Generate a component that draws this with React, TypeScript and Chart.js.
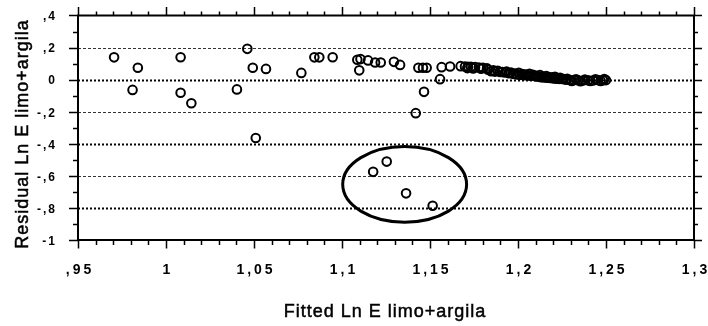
import { useEffect, useRef } from "react";
import { Chart, registerables } from "chart.js";

Chart.register(...registerables);

// Fitted values (x) and residuals (y) of the Ln E limo+argila model
const fitted = [
  0.9705, 0.981, 0.984, 1.0083, 1.0083, 1.0144, 1.0403, 1.0462, 1.0493, 1.051,
  1.0568, 1.0769, 1.0843, 1.0871, 1.0947, 1.1087, 1.1105, 1.1098, 1.1148, 1.1188,
  1.122, 1.1295, 1.133, 1.1419, 1.1434, 1.146, 1.1466, 1.1481, 1.1557, 1.1566,
  1.1614, 1.1674, 1.1699, 1.1716, 1.1733, 1.1756, 1.1778, 1.1801, 1.1824, 1.1847,
  1.1869, 1.1898, 1.1926, 1.1949, 1.1972, 1.1994, 1.2011, 1.2034, 1.2057, 1.2074,
  1.2097, 1.2114, 1.2131, 1.2148, 1.2165, 1.2182, 1.2199, 1.2216, 1.2233, 1.225,
  1.2273, 1.2295, 1.2318, 1.2341, 1.2369, 1.2398, 1.2426, 1.2455, 1.2483, 1.25,
  1.1712, 1.1745, 1.179, 1.183, 1.186, 1.1885, 1.191, 1.1935, 1.196, 1.1985,
  1.2005, 1.2025, 1.2045, 1.2065, 1.2085, 1.2105, 1.2125, 1.214, 1.216, 1.2175,
  1.2195, 1.221, 1.2225, 1.224, 1.226, 1.228, 1.2305, 1.233, 1.2355, 1.238,
  1.241, 1.244, 1.247, 1.249,
  1.1177, 1.1254, 1.1364, 1.1515,
];
const residual = [
  0.139, -0.064, 0.074, 0.14, -0.082, -0.147, -0.061, 0.192, 0.074, -0.364,
  0.067, 0.042, 0.139, 0.139, 0.14, 0.124, 0.128, 0.058, 0.12, 0.107,
  0.107, 0.111, 0.092, -0.209, 0.074, 0.074, -0.076, 0.074, 0.003, 0.078,
  0.082, 0.084, 0.082, 0.08, 0.08, 0.078, 0.076, 0.074, 0.07, 0.052,
  0.05, 0.048, 0.045, 0.04, 0.036, 0.032, 0.03, 0.028, 0.026, 0.025,
  0.022, 0.018, 0.015, 0.013, 0.012, 0.01, 0.008, 0.006, 0.005, 0.004,
  0.0, -0.002, -0.003, -0.004, -0.005, -0.004, -0.005, -0.003, -0.004, -0.003,
  0.072, 0.07, 0.068, 0.062, 0.058, 0.055, 0.048, 0.05, 0.044, 0.038,
  0.042, 0.035, 0.032, 0.036, 0.03, 0.024, 0.028, 0.02, 0.022, 0.016,
  0.014, 0.018, 0.01, 0.012, 0.004, 0.006, -0.008, 0.002, -0.01, 0.0,
  -0.008, 0.002, -0.008, 0.004,
  -0.575, -0.511, -0.709, -0.786,
];

const xTicks = [0.95, 1, 1.05, 1.1, 1.15, 1.2, 1.25, 1.3];
const xTickLabels = [",95", "1", "1,05", "1,1", "1,15", "1,2", "1,25", "1,3"];
const yTicks = [0.4, 0.2, 0, -0.2, -0.4, -0.6, -0.8, -1];
const yTickLabels = [",4", ",2", "0", "-,2", "-,4", "-,6", "-,8", "-1"];
const heavyGrid = [0, -0.4, -0.8];
const lightGrid = [0.2, -0.2, -0.6];

// Group of large negative residuals, ringed on the plot (data units)
const outlierCentre = { x: 1.1356, y: -0.653 };
const outlierHalfWidth = 0.0352;
const outlierHalfHeight = 0.236;

const xTitle = "Fitted Ln E limo+argila";
const yTitle = "Residual Ln E limo+argila";

const framePlugin = {
  id: "residualFrame",
  beforeDatasetsDraw(chart: any) {
    const { ctx, chartArea: a, scales } = chart;
    const y = scales.y;
    ctx.save();
    for (const v of lightGrid) {
      const py = Math.round(y.getPixelForValue(v)) + 0.5;
      ctx.strokeStyle = "#333";
      ctx.lineWidth = 1;
      ctx.setLineDash([3, 2]);
      ctx.beginPath();
      ctx.moveTo(a.left, py);
      ctx.lineTo(a.right, py);
      ctx.stroke();
    }
    for (const v of heavyGrid) {
      const py = Math.round(y.getPixelForValue(v)) + 0.5;
      ctx.strokeStyle = "#000";
      ctx.lineWidth = 2;
      ctx.setLineDash([2, 2]);
      ctx.beginPath();
      ctx.moveTo(a.left, py);
      ctx.lineTo(a.right, py);
      ctx.stroke();
    }
    ctx.restore();
  },
  afterDraw(chart: any) {
    const { ctx, chartArea: a, scales } = chart;
    const x = scales.x;
    const y = scales.y;
    ctx.save();
    ctx.setLineDash([]);
    ctx.strokeStyle = "#000";

    // ring round the outlying residuals
    const cx = x.getPixelForValue(outlierCentre.x);
    const cy = y.getPixelForValue(outlierCentre.y);
    const rx = x.getPixelForValue(outlierCentre.x + outlierHalfWidth) - cx;
    const ry = y.getPixelForValue(outlierCentre.y - outlierHalfHeight) - cy;
    ctx.lineWidth = 3;
    ctx.beginPath();
    ctx.ellipse(cx, cy, rx, ry, 0, 0, Math.PI * 2);
    ctx.stroke();

    // frame
    ctx.lineWidth = 2;
    ctx.strokeRect(a.left, a.top, a.right - a.left, a.bottom - a.top);

    // x ticks, every 0.01, major every 0.05 (top and bottom, pointing out)
    ctx.lineWidth = 1.5;
    const xMin = xTicks[0];
    const xMax = xTicks[xTicks.length - 1];
    const nx = Math.round((xMax - xMin) / 0.01);
    for (let i = 0; i <= nx; i++) {
      const px = Math.round(x.getPixelForValue(xMin + i * 0.01)) + 0.5;
      const major = i % 5 === 0;
      const len = major ? 8.5 : 5;
      ctx.beginPath();
      ctx.moveTo(px, a.bottom);
      ctx.lineTo(px, a.bottom + len);
      ctx.moveTo(px, a.top);
      ctx.lineTo(px, a.top - (major ? 8.5 : 4));
      ctx.stroke();
    }

    // y ticks, every 0.1, major every 0.2 (left and right, pointing out)
    const yMax = yTicks[0];
    const yMin = yTicks[yTicks.length - 1];
    const ny = Math.round((yMax - yMin) / 0.1);
    for (let i = 0; i <= ny; i++) {
      const py = Math.round(y.getPixelForValue(yMin + i * 0.1)) + 0.5;
      const major = i % 2 === 0;
      ctx.beginPath();
      ctx.moveTo(a.left, py);
      ctx.lineTo(a.left - (major ? 9 : 5), py);
      ctx.moveTo(a.right, py);
      ctx.lineTo(a.right + (major ? 8 : 4), py);
      ctx.stroke();
    }

    // tick labels
    ctx.fillStyle = "#000";
    const c = ctx as any;
    ctx.font = "bold 14px 'Liberation Sans', Arial, sans-serif";
    c.letterSpacing = "3px";
    ctx.textAlign = "center";
    ctx.textBaseline = "middle";
    xTicks.forEach((v, i) => {
      ctx.fillText(xTickLabels[i], x.getPixelForValue(v) + 2, a.bottom + 30.5);
    });

    ctx.font = "bold 12px 'Liberation Sans', Arial, sans-serif";
    c.letterSpacing = "2px";
    ctx.textAlign = "right";
    yTicks.forEach((v, i) => {
      ctx.fillText(yTickLabels[i], a.left - 21, y.getPixelForValue(v) + 1.5);
    });

    // axis titles
    ctx.font = "18px 'Liberation Sans', Arial, sans-serif";
    c.letterSpacing = "1px";
    ctx.textAlign = "center";
    ctx.textBaseline = "alphabetic";
    ctx.lineWidth = 0.5;
    ctx.fillText(xTitle, (a.left + a.right) / 2 - 1, 316.5);
    ctx.strokeText(xTitle, (a.left + a.right) / 2 - 1, 316.5);

    ctx.translate(27.5, 134);
    ctx.rotate(-Math.PI / 2);
    ctx.fillText(yTitle, 0, 0);
    ctx.strokeText(yTitle, 0, 0);
    ctx.restore();
  },
};

export default function App() {
  const canvasRef = useRef<HTMLCanvasElement | null>(null);

  useEffect(() => {
    const canvas = canvasRef.current;
    if (!canvas) return;
    const points = fitted.map((fx, i) => ({ x: fx, y: residual[i] }));
    const chart = new Chart(canvas, {
      type: "scatter",
      data: {
        datasets: [
          {
            data: points,
            pointStyle: "circle",
            pointRadius: 4.3,
            pointBorderWidth: 2,
            borderColor: "#000",
            backgroundColor: "rgba(0,0,0,0)",
          },
        ],
      },
      options: {
        responsive: false,
        animation: false,
        devicePixelRatio: 1,
        events: [],
        layout: { padding: { left: 78, right: 14, top: 15.5, bottom: 86 } },
        plugins: { legend: { display: false }, tooltip: { enabled: false } },
        scales: {
          x: { type: "linear", min: 0.95, max: 1.3, display: false },
          y: { type: "linear", min: -1, max: 0.4, display: false },
        },
      },
      plugins: [framePlugin],
    });
    return () => chart.destroy();
  }, []);

  return (
    <div style={{ position: "absolute", left: 0, top: 0, width: 708, height: 326, background: "#fff" }}>
      <canvas ref={canvasRef} width={708} height={326} />
    </div>
  );
}
